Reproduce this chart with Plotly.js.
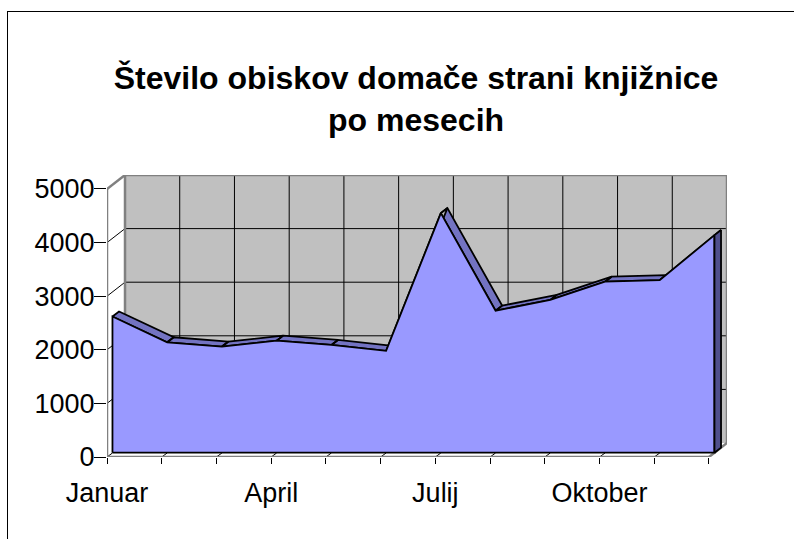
<!DOCTYPE html>
<html>
<head>
<meta charset="utf-8">
<script src="https://cdn.plot.ly/plotly-3.0.1.min.js"></script>
<style>
  html, body { margin:0; padding:0; background:#fff; overflow:hidden; }
  #chart { width:794px; height:539px; position:relative; }
  #frame { position:absolute; left:7px; top:11px; width:2000px; height:2000px;
           border-left:1px solid #000; border-top:1px solid #000; pointer-events:none; }
</style>
</head>
<body>
<div id="chart"></div>
<div id="frame"></div>
<script>
// ---- data ----
const months = ['Januar','Februar','Marec','April','Maj','Junij','Julij','Avgust','September','Oktober','November','December'];
const visits = [2540, 2060, 1980, 2090, 2010, 1900, 4470, 2650, 2850, 3190, 3220, 4060];
const yTicks = [0, 1000, 2000, 3000, 4000, 5000];
const titleText = '<b>Število obiskov domače strani knjižnice<br>po mesecih</b>';

// ---- 3D look (pseudo depth offsets, in axis units) ----
const DX = 0.329, DY = 261;     // wall depth
const FX = 0.10,  FY = 80;      // front face of series
const BX = 0.22,  BY = 174;     // back face of series
const n = months.length;
const idx = months.map((_, i) => i);
const last = n - 1;
const yMax = yTicks[yTicks.length - 1];

// ribbon (top surface) polygons, one per segment
const rx = [], ry = [];
for (let i = 0; i < last; i++) {
  rx.push(i + FX, i + 1 + FX, i + 1 + BX, i + BX, i + FX, null);
  ry.push(visits[i] + FY, visits[i + 1] + FY, visits[i + 1] + BY, visits[i] + BY, visits[i] + FY, null);
}
// front face polygon
const fx = [FX].concat(idx.map(i => i + FX), [last + FX, FX]);
const fy = [FY].concat(visits.map(v => v + FY), [FY, FY]);
// right side face of last point
const sx = [last + FX, last + FX, last + BX, last + BX, last + FX];
const sy = [FY, visits[last] + FY, visits[last] + BY, BY, FY];

const traces = [
  { type:'scatter', mode:'lines', x: rx, y: ry, fill:'toself', fillcolor:'#7373C2',
    line:{color:'#000', width:1.8}, hoverinfo:'skip', showlegend:false },
  { type:'scatter', mode:'lines', x: fx, y: fy, fill:'toself', fillcolor:'#9999FF',
    line:{color:'#000', width:1.8}, hoverinfo:'skip', showlegend:false },
  { type:'scatter', mode:'lines', x: sx, y: sy, fill:'toself', fillcolor:'#4F4F8C',
    line:{color:'#000', width:1.8}, hoverinfo:'skip', showlegend:false }
];

// ---- walls & gridlines (decoration) ----
const shapes = [];
const gray = '#808080';
// back wall
shapes.push({type:'path', layer:'below',
  path:`M ${DX} ${DY} L ${last+DX} ${DY} L ${last+DX} ${yMax+DY} L ${DX} ${yMax+DY} Z`,
  fillcolor:'#C0C0C0', line:{width:0}});
// left wall
shapes.push({type:'path', layer:'below',
  path:`M 0 0 L ${DX} ${DY} L ${DX} ${yMax+DY} L 0 ${yMax} Z`,
  fillcolor:'#FFFFFF', line:{width:0}});
// back wall horizontal gridlines
yTicks.slice(1, -1).forEach(v => shapes.push({type:'line', layer:'below',
  x0:DX, x1:last+DX, y0:v+DY, y1:v+DY, line:{color:'#000', width:1}}));
// back wall vertical gridlines
idx.slice(1, -1).forEach(i => shapes.push({type:'line', layer:'below',
  x0:i+DX, x1:i+DX, y0:DY, y1:yMax+DY, line:{color:'#000', width:1}}));
// left wall gridlines
yTicks.slice(1, -1).forEach(v => shapes.push({type:'line', layer:'below',
  x0:0, x1:DX, y0:v, y1:v+DY, line:{color:'#000', width:1}}));
// floor stubs at category ticks
idx.forEach(i => shapes.push({type:'line', layer:'below',
  x0:i, x1:i+0.1, y0:0, y1:75, line:{color:'#000', width:1}}));
// wall edges (gray)
shapes.push({type:'line', layer:'below', x0:0, x1:DX, y0:yMax, y1:yMax+DY, line:{color:gray, width:2.5}});
shapes.push({type:'line', layer:'below', x0:DX, x1:last+DX, y0:yMax+DY, y1:yMax+DY, line:{color:gray, width:2.5}});
shapes.push({type:'line', layer:'below', x0:DX, x1:DX, y0:DY, y1:yMax+DY, line:{color:gray, width:2.5}});
shapes.push({type:'line', layer:'below', x0:last+DX, x1:last+DX, y0:DY, y1:yMax+DY, line:{color:gray, width:2.5}});
shapes.push({type:'line', layer:'below', x0:0, x1:0, y0:0, y1:yMax, line:{color:gray, width:2.5}});
shapes.push({type:'line', layer:'below', x0:0, x1:last, y0:0, y1:0, line:{color:gray, width:2.5}});
shapes.push({type:'line', layer:'below', x0:last, x1:last+DX, y0:0, y1:DY, line:{color:gray, width:2.5}});

const font = 'Liberation Sans, Arial, sans-serif';
const layout = {
  width:794, height:539,
  margin:{l:107, r:67, t:175, b:82},
  paper_bgcolor:'#fff', plot_bgcolor:'rgba(0,0,0,0)',
  showlegend:false,
  title:{text:titleText, font:{family:font, size:32, color:'#000'},
         x:0.524, xanchor:'center', xref:'container', y:0.835, yanchor:'top', yref:'container'},
  xaxis:{range:[0, last + DX], tickmode:'array', tickvals:idx,
         ticktext: months.map((m, i) => i % 3 === 0 ? m : ''),
         ticks:'outside', ticklen:6, tickcolor:'#000', tickwidth:1,
         showgrid:false, zeroline:false, showline:false,
         tickfont:{family:font, size:27, color:'#000'}, ticklabelstandoff:6, fixedrange:true},
  yaxis:{range:[0, yMax + DY], tickmode:'array', tickvals:yTicks,
         ticktext: yTicks.map(String),
         ticks:'outside', ticklen:12, tickcolor:'#000', tickwidth:1,
         showgrid:false, zeroline:false, showline:false,
         tickfont:{family:font, size:27, color:'#000'}, ticklabelstandoff:-6, fixedrange:true},
  shapes: shapes
};
Plotly.newPlot('chart', traces, layout, {displayModeBar:false, staticPlot:true});
</script>
</body>
</html>
